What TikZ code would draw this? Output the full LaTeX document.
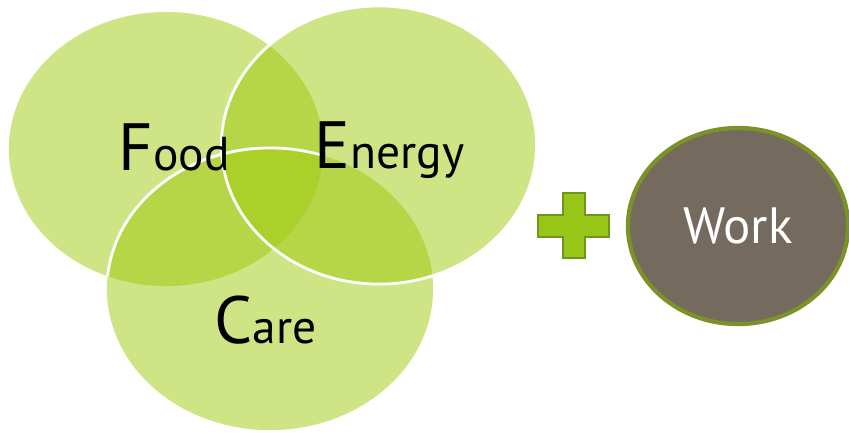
\documentclass[tikz,border=0pt]{standalone}
\usepackage{fontspec}
\setmainfont{PT Sans}
\usetikzlibrary{shapes.geometric}

\definecolor{vennlime}{RGB}{159,201,11}
\definecolor{plusfill}{RGB}{152,198,24}
\definecolor{plusrim}{RGB}{110,150,25}
\definecolor{workfill}{RGB}{116,107,94}
\definecolor{workrim}{RGB}{122,146,40}

\newcommand{\bigfirst}[2]{{\fontsize{19}{19}\selectfont #1}{\fontsize{13.5}{13.5}\selectfont #2}}

\tikzset{
  venn/.style={ellipse, fill=vennlime, fill opacity=0.5, inner sep=0pt, outer sep=0pt},
  rim/.style={white, line width=0.8pt},
  lbl/.style={anchor=base west, inner sep=0pt, text=black},
  plusmark/.style={fill=plusfill, draw=plusrim, line width=0.6pt, line join=miter},
  worknode/.style={ellipse, fill=workfill, draw=workrim, line width=1.2pt, inner sep=0pt,
    minimum width=2.2cm, minimum height=1.96cm, text=white, font=\fontsize{14.5}{14.5}\selectfont}
}

\begin{document}
\begin{tikzpicture}[x=0.01cm, y=-0.01cm]
\useasboundingbox (0,0) rectangle (849,432);

% the three circles
\node[venn, minimum width=3.14cm, minimum height=2.74cm] (food) at (166,149) {};
\node[venn, minimum width=3.15cm, minimum height=2.78cm] (energy) at (379,145) {};
\node[venn, minimum width=3.26cm, minimum height=2.82cm] (care) at (270,289) {};

% white rims
\begin{scope}
\clip (food.center) ellipse [x radius=1.57cm, y radius=1.37cm];
\draw[rim] (care.center) ellipse [x radius=1.63cm, y radius=1.41cm];
\end{scope}
\draw[rim] (energy.center) ellipse [x radius=1.575cm, y radius=1.39cm];

% labels
\node[lbl] (foodlbl) at (118,170) {\bigfirst{F}{ood}};
\node[lbl] (energylbl) at (314,168) {\bigfirst{E}{nergy}};
\node[lbl] (carelbl) at (214,343) {\bigfirst{C}{are}};

% plus sign
\coordinate (plus) at (574,226);
\draw[plusmark, shift={(plus)}] (-36,-11) -- (-11,-11) -- (-11,-33) -- (11,-33) -- (11,-11)
  -- (35,-11) -- (35,11) -- (11,11) -- (11,32) -- (-11,32) -- (-11,11) -- (-36,11) -- cycle;

\node[worknode] (work) at (738,226) {Work};
\end{tikzpicture}
\end{document}
